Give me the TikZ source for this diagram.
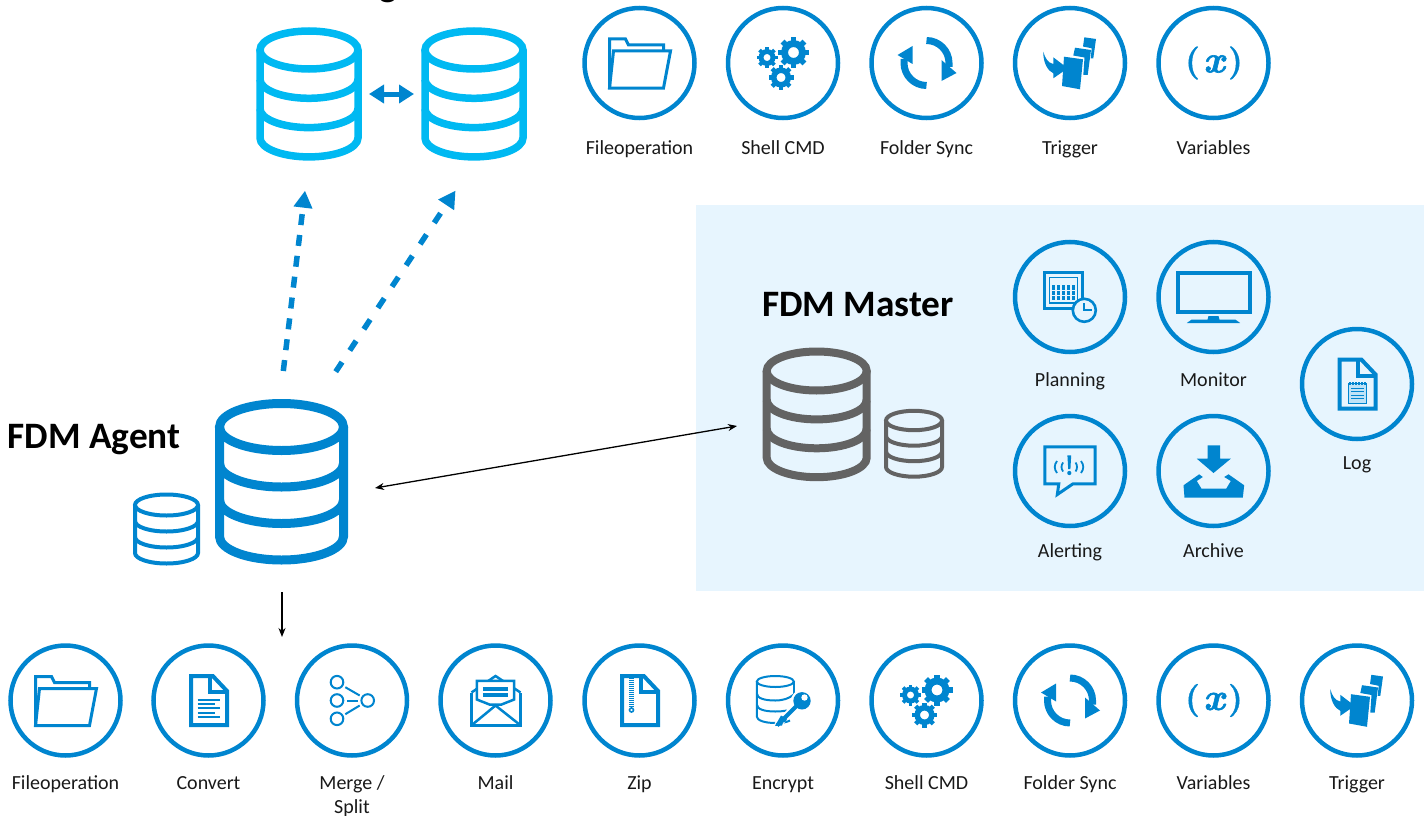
\documentclass[tikz,border=0pt]{standalone}
\usepackage{fontspec}
\setmainfont{Carlito}
\newfontface\xital[FakeBold=1.6]{lmroman10-bolditalic.otf}
\newfontface\xparen[FakeBold=1.2]{lmroman10-bold.otf}
\usetikzlibrary{arrows.meta}
\definecolor{fdmblue}{HTML}{0085CF}
\definecolor{fdmcyan}{HTML}{00B9F2}
\definecolor{fdmgrey}{HTML}{636363}
\definecolor{panelc}{HTML}{E7F5FE}
\definecolor{padc}{HTML}{BFE3F7}
\tikzset{
  ring/.style={circle,draw=fdmblue,line width=4.5pt,minimum size=110pt,inner sep=0pt,outer sep=0pt},
  lbl/.style={font=\fontsize{20}{24}\selectfont,text=black!90,inner sep=0pt,anchor=base},
  title/.style={font=\fontsize{37.3}{40}\selectfont\bfseries,text=black,inner sep=0pt,anchor=base},
  iline/.style={draw=fdmblue,line join=miter},
  ifill/.style={fill=fdmblue,draw=none},
  dasharrow/.style={draw=fdmblue,line width=5.5pt,-{Triangle[length=17pt,width=18pt]}},
  thinarrow/.style={draw=black,line width=1.3pt},
}
% cylinder: cx, y of top ellipse, rx, ry, band spacing, line width, colour
\newcommand\dbcyl[7]{%
  \begin{scope}[shift={(#1,#2)},x=#3pt,y=-#4pt,line width=#6pt,draw=#7]
    \draw (-1,0) .. controls (-1,.5523) and (-.5523,1) .. (0,1) .. controls (.5523,1) and (1,.5523) .. (1,0)
      .. controls (1,-.5523) and (.5523,-1) .. (0,-1) .. controls (-.5523,-1) and (-1,-.5523) .. (-1,0) -- cycle;
    \draw (-1,0) -- (-1,{3*#5/#4}) .. controls (-1,{3*#5/#4+.5523}) and (-.5523,{3*#5/#4+1}) .. (0,{3*#5/#4+1})
      .. controls (.5523,{3*#5/#4+1}) and (1,{3*#5/#4+.5523}) .. (1,{3*#5/#4}) -- (1,0);
    \foreach \k in {1,2}{
      \draw (-1,{\k*#5/#4}) .. controls (-1,{\k*#5/#4+.5523}) and (-.5523,{\k*#5/#4+1}) .. (0,{\k*#5/#4+1})
        .. controls (.5523,{\k*#5/#4+1}) and (1,{\k*#5/#4+.5523}) .. (1,{\k*#5/#4});
    }
  \end{scope}}
% gear: x y router rhole
\newcommand\gearicon[4]{%
  \begin{scope}[shift={(#1,#2)}]
    \pgfmathsetmacro\gb{#3*0.8}
    \pgfmathsetmacro\gm{(\gb+#4)/2}
    \pgfmathsetmacro\gw{\gb-#4}
    \pgfmathsetmacro\gt{#3*0.36}
    \draw[draw=fdmblue,line width=\gw pt] (0,0) circle (\gm pt);
    \foreach \a in {0,45,...,315}{\draw[draw=fdmblue,line width=\gt pt] (\a:\gm pt) -- (\a:#3 pt);}
  \end{scope}}
\newcommand\icfolder{%
  \draw[iline,line width=3pt] (-30,25) -- (-30,-24) -- (-14,-24) -- (-11,-18) -- (24,-18) -- (24,-12);
  \draw[iline,line width=3pt] (-26,-12) -- (31,-12) -- (24,25) -- (-30,25) -- cycle;}
\newcommand\icgears{%
  \gearicon{10.5}{-10.5}{15.5}{5.5}\gearicon{-16}{-5.5}{10.5}{3.5}\gearicon{-2}{14.5}{12.5}{4.5}}
\newcommand\icsync{%
  \draw[iline,line width=7pt] (0,-22.5) .. controls (12.4,-22.5) and (22.5,-12.4) .. (22.5,0) -- (22.5,4);
  \fill[ifill] (15,18) -- (30,10) -- (15,-3) -- cycle;
  \draw[iline,line width=7pt] (0,22.5) .. controls (-12.4,22.5) and (-22.5,12.4) .. (-22.5,0) -- (-22.5,-4);
  \fill[ifill] (-14,-17) -- (-29,-8) -- (-14,1) -- cycle;}
\newcommand\ictrigger{%
  \fill[ifill] (-6,-6.3) -- (13,-3.7) -- (10,26.3) -- (-8,23) -- cycle;
  \fill[ifill] (5,-15.3) -- (21,-13) -- (17.7,12) -- (13.3,12) -- (14.5,-5.5) -- (3.3,-7.5) -- cycle;
  \fill[ifill] (14.3,-25.7) -- (26,-24) -- (23.3,-4.7) -- (20.7,-4.7) -- (21.7,-14.7) -- (13,-16.5) -- cycle;
  \fill[ifill] (-26.7,-11.3) .. controls (-27,0) and (-22,8) .. (-16.7,10.3) -- (-16.7,15.3) -- (-2.3,5.3)
    -- (-16.7,-5.7) -- (-16.7,1) .. controls (-22,0) and (-25,-5) .. (-26.7,-11.3) -- cycle;}
\newcommand\icvars{%
  \node[inner sep=0pt,text=fdmblue,font=\xparen\fontsize{33}{36}\selectfont] (pl) at (-21,0) {(};
  \node[inner sep=0pt,text=fdmblue,font=\xparen\fontsize{33}{36}\selectfont] (pr) at (22,0) {)};
  \node[inner sep=0pt,text=fdmblue,font=\xital\fontsize{38}{40}\selectfont] (px) at (0.5,1) {x};}
\newcommand\icdoc{%
  \draw[iline,line width=4pt] (-17.5,-24.3) -- (4.5,-24.3) -- (18.5,-9.5) -- (18.5,24.5) -- (-17.5,24.5) -- cycle;
  \draw[iline,line width=4pt] (1,-25) -- (1,-8.5) -- (19,-8.5);}
\newcommand\icconvert{\icdoc
  \foreach \yy/\xx in {-.3/11.7,3.7/6.7,7.7/11.7,12.3/6.7,16.3/11.7}{\draw[draw=fdmblue,line width=2.5pt] (-11,\yy) -- (\xx,\yy);}}
\newcommand\iczip{\icdoc
  \draw[draw=fdmblue,line width=4.5pt,dash pattern=on 1pt off 1pt] (-8,-23) -- (-8,7);
  \draw[draw=fdmblue,line width=1.6pt] (-8,9.5) circle (2pt);}
\newcommand\iclog{\icdoc
  \fill[fill=padc] (-8.3,0) rectangle (9,19);
  \draw[draw=fdmblue,line width=1pt] (-8.3,-.5) rectangle (9,19);
  \foreach \yy in {4,7.5,11,14.5}{\draw[draw=fdmblue,line width=1pt] (-6,\yy) -- (7,\yy);}
  \foreach \xx in {-7,-4,-1,2,5,8}{\draw[draw=fdmblue,line width=1.2pt] (\xx,-2) -- (\xx,1);}}
\newcommand\icmerge{%
  \foreach \xx/\yy in {-15/-18.3,-15/0,-15/18.3,15.7/0}{\draw[draw=fdmblue,line width=2pt] (\xx,\yy) circle (6.3pt);}
  \draw[draw=fdmblue,line width=2pt] (-6.7,-13.3) -- (7.7,-5);
  \draw[draw=fdmblue,line width=2pt] (-5,0) -- (5.7,0);
  \draw[draw=fdmblue,line width=2pt] (-6.7,13.7) -- (7.7,5);}
\newcommand\icmail{%
  \draw[iline,line width=2.5pt] (-24,-8) -- (-24,25) -- (25,25) -- (25,-8);
  \draw[iline,line width=2.5pt] (-24,-8) -- (0,-24.5) -- (25,-8);
  \draw[iline,line width=2.5pt,fill=white] (-18.7,-19.7) -- (18.7,-19.7) -- (18.7,-1) -- (6,4) -- (-6,4) -- (-18.7,-1) -- cycle;
  \draw[draw=fdmblue,line width=4pt] (-12.7,-11.7) -- (12.3,-11.7);
  \draw[draw=fdmblue,line width=4pt] (-12.7,-5.7) -- (12.3,-5.7);
  \draw[iline,line width=2.5pt] (-23,24) -- (0,5) -- (24,24);}
\newcommand\icencrypt{%
  \begin{scope}[line width=2pt,draw=fdmblue]
    \draw (-7.7,-19) ellipse (18.5pt and 5.5pt);
    \draw (-26.2,-19) -- (-26.2,16) .. controls (-26.2,20) and (-18,22.5) .. (-7.7,22.5) .. controls (0,22.5) and (4,21.5) .. (7,20);
    \draw (10.8,-19) -- (10.8,-6);
    \draw (-26.2,-7) .. controls (-26,-2) and (-18,0) .. (-7.7,0) .. controls (0,0) and (6,-2) .. (10.8,-6);
    \draw (-26.2,4) .. controls (-26,9) and (-18,11) .. (-7.7,11) .. controls (-2,11) and (1,10.5) .. (4,10);
  \end{scope}
  \draw[draw=white,line width=7pt] (13,5) -- (-6,25);
  \fill[fill=white] (19,0.3) circle (11pt);
  \fill[ifill] (19,0.3) circle (8.7pt);
  \fill[fill=white] (21.5,-3) circle (3.2pt);
  \draw[draw=fdmblue,line width=4pt] (13,6) -- (-6,25);
  \fill[ifill] (-8,25.5) -- (-1,25) -- (0,22) -- (3,21) -- (4,18) -- (-2,15) -- cycle;}
\newcommand\icplanning{%
  \draw[iline,line width=3pt] (-26,-24.5) rectangle (12.5,11.8);
  \draw[iline,line width=1.5pt] (-20.5,-19.5) rectangle (7.5,6);
  \foreach \i in {0,...,4}{\foreach \j in {0,1,2}{
    \fill[ifill] ({-18.5+\i*5},{-11.8+\j*5.4}) rectangle ({-14.6+\i*5},{-7.4+\j*5.4});}}
  \draw[draw=fdmblue,fill=panelc,line width=2.6pt] (14.3,13.3) circle (11.5pt);
  \draw[draw=fdmblue,line width=2.2pt] (14.3,6) -- (14.3,13.3) -- (21.5,13.3);}
\newcommand\icmonitor{%
  \draw[iline,line width=4pt] (-36,-24) rectangle (36.5,14.5);
  \fill[ifill] (-5,19) -- (5,19) -- (6,22.7) -- (22,22.7) -- (26.7,26) -- (-26.7,26) -- (-22,22.7) -- (-6,22.7) -- cycle;}
\newcommand\icalert{%
  \draw[iline,line width=3pt] (-25.2,-24.2) -- (25.2,-24.2) -- (25.2,12.8) -- (3,12.8) -- (-12.7,23.5) -- (-11.2,12.8) -- (-25.2,12.8) -- cycle;
  \fill[ifill] (-2.6,-15.7) -- (1.2,-15.7) -- (.4,-2) -- (-1.8,-2) -- cycle;
  \fill[ifill] (-.7,2) circle (2.1pt);
  \draw[draw=fdmblue,line width=1.8pt] (-13,-10) .. controls (-16,-6) and (-16,-2) .. (-13,2);
  \draw[draw=fdmblue,line width=1.8pt] (-7,-8.5) .. controls (-9,-5.5) and (-9,-2.5) .. (-7,.5);
  \draw[draw=fdmblue,line width=1.8pt] (11,-10) .. controls (14,-6) and (14,-2) .. (11,2);
  \draw[draw=fdmblue,line width=1.8pt] (5.5,-8.5) .. controls (7.5,-5.5) and (7.5,-2.5) .. (5.5,.5);}
\newcommand\icarchive{%
  \fill[ifill] (-6,-25.7) -- (6.7,-25.7) -- (6.7,-12.3) -- (17.3,-12.3) -- (0,2) -- (-16.7,-12.3) -- (-6,-12.3) -- cycle;
  \fill[ifill] (-30,14.3) -- (-14.3,3.3) -- (-10.7,6) -- (-16.7,10) -- (-12,17.7) -- (12.7,17.7) -- (17.3,10) -- (10.7,6) -- (15,3.3) -- (30.7,14.3) -- (29.3,26.7) -- (-29,26.7) -- cycle;}
% tool: name x y icon label baseline-y
\newcommand\tool[6]{%
  \node[ring] (#1) at (#2,#3) {};
  \begin{scope}[shift={(#2,#3)}]#4\end{scope}
  \node[lbl] (#1label) at (#2,#6) {#5};}
\begin{document}
\begin{tikzpicture}[x=1pt,y=-1pt]
\useasboundingbox (0,0) rectangle (1424,816);
\fill[panelc] (696,205) rectangle (1424,591);

% cropped heading
\node[title] (cuttitle) at (388,-3) {g};

% cylinders
\dbcyl{309}{50}{49}{19}{29.3}{7.5}{fdmcyan}
\dbcyl{474}{50}{49}{19}{29.3}{7.5}{fdmcyan}
\dbcyl{281.5}{427}{62}{23.5}{36.5}{9}{fdmblue}
\dbcyl{166.5}{505}{31.5}{10.5}{16}{4}{fdmblue}
\dbcyl{816.7}{371}{50}{19.5}{28.9}{8}{fdmgrey}
\dbcyl{914}{420.5}{28}{9.7}{15.5}{4}{fdmgrey}

\coordinate (storeL) at (369,94);
\coordinate (storeR) at (414,94);
\coordinate (agentUpA) at (283.3,371);
\coordinate (storeAIn) at (305,190.7);
\coordinate (agentUpB) at (335.7,371.7);
\coordinate (storeBIn) at (455.5,190.7);
\coordinate (agentEast) at (375,488);
\coordinate (masterWest) at (737,426);
\coordinate (agentDown) at (282,592);
\coordinate (toolsTop) at (282,637);

\draw[draw=fdmblue,line width=5pt,{Triangle[length=15pt,width=18pt]}-{Triangle[length=15pt,width=18pt]}] (storeL) -- (storeR);
\draw[dasharrow,dash pattern=on 11pt off 10pt] (agentUpA) -- (storeAIn);
\draw[dasharrow,dash pattern=on 11.5pt off 14pt] (agentUpB) -- (storeBIn);
\draw[thinarrow,{Stealth[length=9pt,width=7pt]}-{Stealth[length=9pt,width=7pt]}] (agentEast) -- (masterWest);
\draw[thinarrow,-{Stealth[length=9pt,width=7pt]}] (agentDown) -- (toolsTop);

% headings
\node[title] (agentt) at (94,448) {FDM Agent};
\node[title] (mastert) at (858,316.5) {FDM Master};

% top row
\tool{tFile}{639.5}{63}{\icfolder}{Fileoperation}{154}
\tool{tShell}{783}{63}{\icgears}{Shell CMD}{154}
\tool{tSync}{926.5}{63}{\icsync}{Folder Sync}{154}
\tool{tTrig}{1070}{63}{\ictrigger}{Trigger}{154}
\tool{tVar}{1213.5}{63}{\icvars}{Variables}{154}

% master
\tool{mPlan}{1070}{297}{\icplanning}{Planning}{386}
\tool{mMon}{1213.5}{297}{\icmonitor}{Monitor}{386}
\tool{mAlert}{1070}{471}{\icalert}{Alerting}{557}
\tool{mArch}{1213.5}{471}{\icarchive}{Archive}{557}
\tool{mLog}{1357}{384}{\iclog}{Log}{469}

% bottom row
\tool{bFile}{65.5}{700.5}{\icfolder}{Fileoperation}{789}
\tool{bConv}{208.5}{700.5}{\icconvert}{Convert}{789}
\tool{bMerge}{352}{700.5}{\icmerge}{Merge /}{789}
\node[lbl] (bMergelabelb) at (352,813) {Split};
\tool{bMail}{495.5}{700.5}{\icmail}{Mail}{789}
\tool{bZip}{639.5}{700.5}{\iczip}{Zip}{789}
\tool{bEnc}{783}{700.5}{\icencrypt}{Encrypt}{789}
\tool{bShell}{926.5}{700.5}{\icgears}{Shell CMD}{789}
\tool{bSync}{1070}{700.5}{\icsync}{Folder Sync}{789}
\tool{bVar}{1213.5}{700.5}{\icvars}{Variables}{789}
\tool{bTrig}{1357}{700.5}{\ictrigger}{Trigger}{789}
\end{tikzpicture}
\end{document}
